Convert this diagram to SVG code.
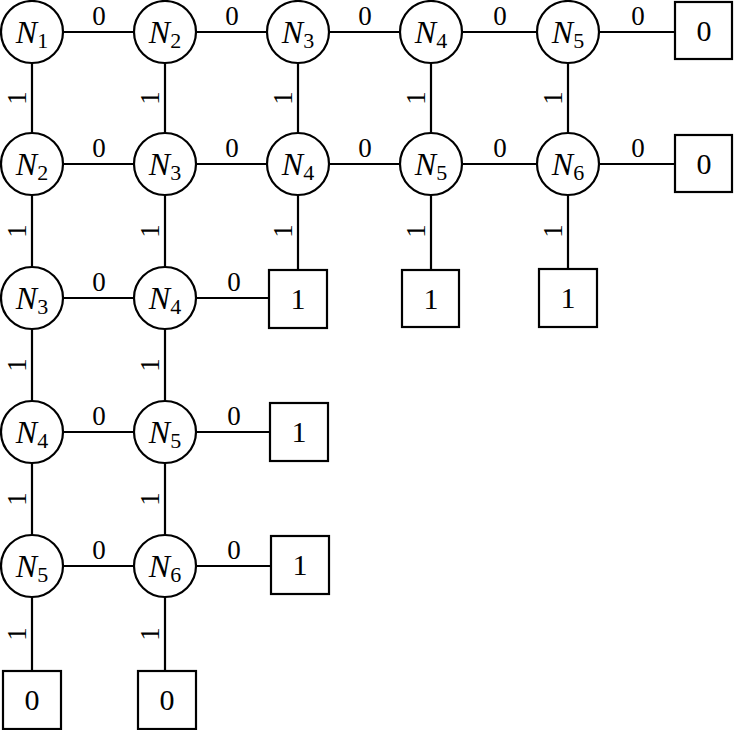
<svg xmlns="http://www.w3.org/2000/svg" width="734" height="730" viewBox="0 0 734 730">
<style>
.c{fill:#fff;stroke:#000;stroke-width:2.2}
.b{fill:#fff;stroke:#000;stroke-width:2.2}
.e{stroke:#000;stroke-width:2.2;fill:none}
text{font-family:"Liberation Serif","Times New Roman",serif;fill:#000;text-anchor:middle}
.n{font-size:32px}
.s{font-style:normal;font-size:22px}
.l{font-size:30px}
.el{font-size:27px}
</style>
<rect width="734" height="730" fill="#fff"/>
<g id="connectors">
<path class="e" d="M32 32H704M32 164H704M32 298H298M32 432H298M32 566H298M32 32V700M165 32V700M298 32V298M431 32V298M568 32V298"/>
<g class="el">
<text x="99" y="25">0</text><text x="232" y="25">0</text><text x="365" y="25">0</text><text x="500" y="25">0</text><text x="638" y="25">0</text>
<text x="99" y="157">0</text><text x="232" y="157">0</text><text x="365" y="157">0</text><text x="500" y="157">0</text><text x="638" y="157">0</text>
<text x="99" y="291">0</text><text x="234" y="291">0</text>
<text x="99" y="425">0</text><text x="234" y="425">0</text>
<text x="99" y="559">0</text><text x="234" y="559">0</text>
</g>
<g class="el">
<text transform="translate(26 98) rotate(-90)">1</text>
<text transform="translate(26 231) rotate(-90)">1</text>
<text transform="translate(26 365) rotate(-90)">1</text>
<text transform="translate(26 499) rotate(-90)">1</text>
<text transform="translate(26 634) rotate(-90)">1</text>
<text transform="translate(159 98) rotate(-90)">1</text>
<text transform="translate(159 231) rotate(-90)">1</text>
<text transform="translate(159 365) rotate(-90)">1</text>
<text transform="translate(159 499) rotate(-90)">1</text>
<text transform="translate(159 634) rotate(-90)">1</text>
<text transform="translate(292 98) rotate(-90)">1</text>
<text transform="translate(292 231) rotate(-90)">1</text>
<text transform="translate(425 98) rotate(-90)">1</text>
<text transform="translate(425 231) rotate(-90)">1</text>
<text transform="translate(562 98) rotate(-90)">1</text>
<text transform="translate(562 231) rotate(-90)">1</text>
</g>
</g>
<g id="r1c1"><circle class="c" cx="32" cy="32" r="31"/><text class="n" x="32" y="43"><tspan font-style="italic">N</tspan><tspan class="s" dy="5">1</tspan></text></g>
<g id="r1c2"><circle class="c" cx="165" cy="32" r="31"/><text class="n" x="165" y="43"><tspan font-style="italic">N</tspan><tspan class="s" dy="5">2</tspan></text></g>
<g id="r1c3"><circle class="c" cx="298" cy="32" r="31"/><text class="n" x="298" y="43"><tspan font-style="italic">N</tspan><tspan class="s" dy="5">3</tspan></text></g>
<g id="r1c4"><circle class="c" cx="431" cy="32" r="31"/><text class="n" x="431" y="43"><tspan font-style="italic">N</tspan><tspan class="s" dy="5">4</tspan></text></g>
<g id="r1c5"><circle class="c" cx="568" cy="32" r="31"/><text class="n" x="568" y="43"><tspan font-style="italic">N</tspan><tspan class="s" dy="5">5</tspan></text></g>
<g id="r2c1"><circle class="c" cx="32" cy="164" r="31"/><text class="n" x="32" y="175"><tspan font-style="italic">N</tspan><tspan class="s" dy="5">2</tspan></text></g>
<g id="r2c2"><circle class="c" cx="165" cy="164" r="31"/><text class="n" x="165" y="175"><tspan font-style="italic">N</tspan><tspan class="s" dy="5">3</tspan></text></g>
<g id="r2c3"><circle class="c" cx="298" cy="164" r="31"/><text class="n" x="298" y="175"><tspan font-style="italic">N</tspan><tspan class="s" dy="5">4</tspan></text></g>
<g id="r2c4"><circle class="c" cx="431" cy="164" r="31"/><text class="n" x="431" y="175"><tspan font-style="italic">N</tspan><tspan class="s" dy="5">5</tspan></text></g>
<g id="r2c5"><circle class="c" cx="568" cy="164" r="31"/><text class="n" x="568" y="175"><tspan font-style="italic">N</tspan><tspan class="s" dy="5">6</tspan></text></g>
<g id="r3c1"><circle class="c" cx="32" cy="298" r="31"/><text class="n" x="32" y="309"><tspan font-style="italic">N</tspan><tspan class="s" dy="5">3</tspan></text></g>
<g id="r3c2"><circle class="c" cx="165" cy="298" r="31"/><text class="n" x="165" y="309"><tspan font-style="italic">N</tspan><tspan class="s" dy="5">4</tspan></text></g>
<g id="r4c1"><circle class="c" cx="32" cy="432" r="31"/><text class="n" x="32" y="443"><tspan font-style="italic">N</tspan><tspan class="s" dy="5">4</tspan></text></g>
<g id="r4c2"><circle class="c" cx="165" cy="432" r="31"/><text class="n" x="165" y="443"><tspan font-style="italic">N</tspan><tspan class="s" dy="5">5</tspan></text></g>
<g id="r5c1"><circle class="c" cx="32" cy="566" r="31"/><text class="n" x="32" y="577"><tspan font-style="italic">N</tspan><tspan class="s" dy="5">5</tspan></text></g>
<g id="r5c2"><circle class="c" cx="165" cy="566" r="31"/><text class="n" x="165" y="577"><tspan font-style="italic">N</tspan><tspan class="s" dy="5">6</tspan></text></g>
<g id="t1"><rect class="b" x="675" y="2" width="57" height="57"/><text class="l" x="704" y="41">0</text></g>
<g id="t2"><rect class="b" x="675" y="135" width="57" height="57"/><text class="l" x="704" y="174">0</text></g>
<g id="t3"><rect class="b" x="269" y="270" width="58" height="58"/><text class="l" x="298" y="309">1</text></g>
<g id="t4"><rect class="b" x="402" y="270" width="57" height="57"/><text class="l" x="431" y="309">1</text></g>
<g id="t5"><rect class="b" x="539" y="269" width="58" height="58"/><text class="l" x="568" y="308">1</text></g>
<g id="t6"><rect class="b" x="270" y="403" width="58" height="58"/><text class="l" x="299" y="442">1</text></g>
<g id="t7"><rect class="b" x="271" y="536" width="58" height="58"/><text class="l" x="300" y="575">1</text></g>
<g id="t8"><rect class="b" x="3" y="671" width="58" height="58"/><text class="l" x="32" y="710">0</text></g>
<g id="t9"><rect class="b" x="138" y="671" width="58" height="58"/><text class="l" x="167" y="710">0</text></g>
</svg>
